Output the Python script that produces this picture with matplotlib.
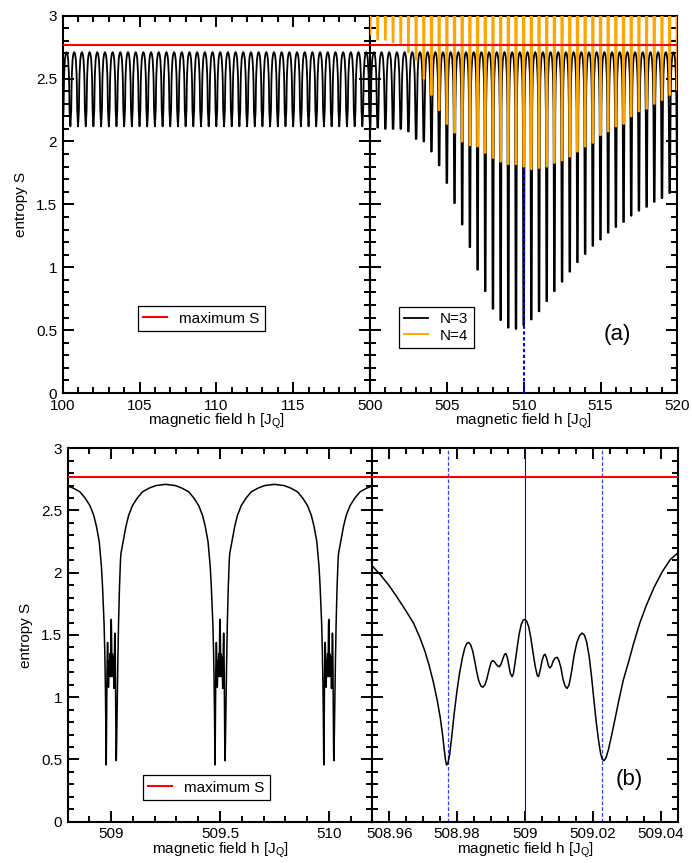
import numpy as np
import matplotlib.pyplot as plt
from matplotlib.ticker import MultipleLocator

plt.rcParams['font.family'] = ['Liberation Sans', 'DejaVu Sans']
plt.rcParams['mathtext.default'] = 'regular'

# maximum entropy (red line)
S_max = 2.77

# top left: N=3, dips every 0.5 J_Q, all equally deep
left_centres = np.arange(100.0, 120.01, 0.5)
left_min = 2.12

# top right: dip positions and dip minima for N=3 and N=4
right_centres = np.arange(500.0, 520.01, 0.5)
n3_min = [2.11, 2.11, 2.10, 2.10, 2.10, 2.08, 2.02, 2.00, 1.92, 1.81,
          1.67, 1.51, 1.34, 1.16, 0.98, 0.81, 0.67, 0.58, 0.52, 0.51,
          0.54, 0.585, 0.65, 0.73, 0.81, 0.885, 0.965, 1.04, 1.105, 1.17,
          1.22, 1.275, 1.32, 1.36, 1.41, 1.45, 1.48, 1.52, 1.55, 1.59, 1.62]
n4_min = [2.85, 2.81, 2.81, 2.79, 2.77, 2.71, 2.65, 2.50, 2.37, 2.25,
          2.14, 2.07, 2.00, 1.97, 1.96, 1.91, 1.87, 1.84, 1.82, 1.82,
          1.80, 1.78, 1.79, 1.80, 1.83, 1.85, 1.88, 1.92, 1.96, 1.99,
          2.05, 2.08, 2.12, 2.14, 2.20, 2.24, 2.26, 2.30, 2.33, 2.37, 2.41]
# N=4 stripe shape above the minimum (offset, entropy), goes off the top
n4_d = [0.25, 0.05]
n4_S = [3.6, 3.1]
mark_h = 510.0
mark_top = 1.80

# wing of an N=3 dip: offset from dip centre and entropy
wing_d = [0.055, 0.0675, 0.08, 0.098, 0.12, 0.144, 0.175, 0.205, 0.25]
wing_S = [2.25, 2.37, 2.46, 2.54, 2.60, 2.65, 2.68, 2.70, 2.71]
dip_half = 0.0228

# bottom right: the dip at h = 509 in detail
zoom_h = [508.9552, 508.9575, 508.9600, 508.9625, 508.9650, 508.9672, 508.9690,
          508.9705, 508.9718, 508.9730, 508.9741, 508.9750, 508.9757, 508.9762,
          508.9766, 508.9769, 508.9773, 508.9778, 508.9784, 508.9791, 508.9799,
          508.9807, 508.9815, 508.9822, 508.9828, 508.9834, 508.9840, 508.9846,
          508.9852, 508.9858, 508.9864, 508.9870, 508.9876, 508.9882, 508.9888,
          508.9894, 508.9900, 508.9905, 508.9910, 508.9915, 508.9920, 508.9925,
          508.9930, 508.9935, 508.9940, 508.9944, 508.9948, 508.9952, 508.9957,
          508.9962, 508.9966, 508.9971, 508.9977, 508.9983, 508.9989, 508.9995,
          509.0000, 509.0005, 509.0011, 509.0017, 509.0023, 509.0030, 509.0036,
          509.0040, 509.0045, 509.0050, 509.0055, 509.0059, 509.0064, 509.0069,
          509.0073, 509.0078, 509.0083, 509.0089, 509.0095, 509.0100, 509.0106,
          509.0112, 509.0118, 509.0124, 509.0130, 509.0137, 509.0145, 509.0153,
          509.0161, 509.0168, 509.0175, 509.0182, 509.0189, 509.0196, 509.0203,
          509.0210, 509.0217, 509.0223, 509.0228, 509.0233, 509.0239, 509.0246,
          509.0255, 509.0265, 509.0277, 509.0290, 509.0305, 509.0320, 509.0338,
          509.0358, 509.0380, 509.0405, 509.0428, 509.0449]
zoom_S = [2.048, 1.980, 1.895, 1.795, 1.690, 1.593, 1.480,
          1.370, 1.250, 1.120, 0.980, 0.840, 0.700, 0.580,
          0.490, 0.455, 0.470, 0.540, 0.680, 0.860, 1.040,
          1.190, 1.310, 1.390, 1.430, 1.440, 1.420, 1.370,
          1.290, 1.200, 1.130, 1.090, 1.080, 1.100, 1.150,
          1.220, 1.280, 1.295, 1.285, 1.265, 1.250, 1.245,
          1.270, 1.310, 1.345, 1.350, 1.320, 1.260, 1.190,
          1.165, 1.190, 1.280, 1.400, 1.510, 1.585, 1.620,
          1.625, 1.610, 1.565, 1.480, 1.370, 1.250, 1.175,
          1.165, 1.220, 1.290, 1.335, 1.345, 1.310, 1.255,
          1.235, 1.250, 1.290, 1.315, 1.320, 1.295, 1.235,
          1.145, 1.090, 1.070, 1.100, 1.200, 1.340, 1.440,
          1.495, 1.515, 1.500, 1.440, 1.330, 1.170, 0.980,
          0.800, 0.650, 0.545, 0.500, 0.490, 0.515, 0.580,
          0.690, 0.820, 0.980, 1.140, 1.280, 1.430, 1.593,
          1.740, 1.880, 2.010, 2.105, 2.155]
zoom_centre = 509.0
zoom_dashed = [508.9772, 509.0228]

# bottom left: three dips
bottom_centres = [509.0, 509.5, 510.0]

y_ticks = [0, 0.5, 1, 1.5, 2, 2.5, 3]
y_labels = ['0', '0.5', '1', '1.5', '2', '2.5', '3']
xlab = 'magnetic field h [J$_Q$]'


def dip(c, inner_d, inner_S):
    """one N=3 dip: left wing, inner part, right wing"""
    x = [c - d for d in wing_d[::-1]] + [c + d for d in inner_d] + [c + d for d in wing_d]
    y = wing_S[::-1] + list(inner_S) + wing_S
    return x, y


def style(ax, ylab=True):
    ax.set_ylim(0, 3)
    ax.set_yticks(y_ticks)
    ax.set_yticklabels(y_labels if ylab else [])
    ax.yaxis.set_minor_locator(MultipleLocator(0.1))
    ax.tick_params(which='both', direction='in', top=True, right=True,
                   width=1.4, labelsize=11)
    ax.tick_params(which='major', length=8.2, pad=4)
    ax.tick_params(which='minor', length=4.2)
    for s in ax.spines.values():
        s.set_linewidth(1.5)
    ax.set_xlabel(xlab, fontsize=11)
    ax.xaxis.set_label_coords(0.5, -0.05)
    if ylab:
        ax.set_ylabel('entropy S', fontsize=11)
        ax.yaxis.set_label_coords(-0.113, 0.5)


def legend(ax, x0, y0):
    leg = ax.legend(loc='lower left', bbox_to_anchor=(x0, y0), borderaxespad=0,
                    fontsize=11, fancybox=False, edgecolor='black', framealpha=1,
                    handlelength=1.55, handletextpad=0.8, borderpad=0.35,
                    labelspacing=0.15)
    leg.get_frame().set_linewidth(0.9)


fig = plt.figure(figsize=(6.92, 8.63), dpi=100)
ax_tl = fig.add_axes([0.0906, 0.5446, 0.4441, 0.4372])
ax_tr = fig.add_axes([0.5347, 0.5446, 0.4441, 0.4372])
ax_bl = fig.add_axes([0.0978, 0.0479, 0.4402, 0.4327])
ax_br = fig.add_axes([0.5380, 0.0479, 0.4413, 0.4327])

# ---- top left
xs, ys = [], []
for c in left_centres:
    x, y = dip(c, [0.0], [left_min])
    xs += x
    ys += y
ax_tl.plot(xs, ys, color='black', lw=1.3, zorder=2)
ax_tl.axhline(S_max, color='red', lw=1.5, zorder=4, label='maximum S')
ax_tl.set_xlim(100, 120)
ax_tl.set_xticks([100, 105, 110, 115, 120])
ax_tl.set_xticklabels(['100', '105', '110', '115', ''])
ax_tl.xaxis.set_minor_locator(MultipleLocator(1))
style(ax_tl)
legend(ax_tl, 0.245, 0.164)

# ---- top right
xs, ys = [], []
for c, m in zip(right_centres, n3_min):
    x, y = dip(c, [-dip_half, dip_half], [m, m])
    xs += x
    ys += y
ax_tr.plot(xs, ys, color='black', lw=1.3, zorder=2, label='N=3')
xs, ys = [], []
for c, m in zip(right_centres, n4_min):
    xs += [c - d for d in n4_d] + [c - dip_half, c + dip_half] + [c + d for d in n4_d[::-1]]
    ys += n4_S + [m, m] + n4_S[::-1]
ax_tr.plot(xs, ys, color='#ffa500', lw=1.4, zorder=3, label='N=4')
ax_tr.axhline(S_max, color='red', lw=1.5, zorder=4)
ax_tr.plot([mark_h, mark_h], [0, mark_top], color='blue', lw=1.5,
           ls=(0, (1.6, 1.2)), zorder=5)
ax_tr.set_xlim(500, 520)
ax_tr.set_xticks([500, 505, 510, 515, 520])
ax_tr.set_xticklabels(['500', '505', '510', '515', '520'])
ax_tr.xaxis.set_minor_locator(MultipleLocator(1))
style(ax_tr, ylab=False)
legend(ax_tr, 0.094, 0.119)
ax_tr.text(0.804, 0.154, '(a)', transform=ax_tr.transAxes, fontsize=16,
           ha='center', va='center')

# ---- bottom left
inner_d = [h - zoom_centre for h in zoom_h]
xs, ys = [], []
for c in bottom_centres:
    x, y = dip(c, inner_d, zoom_S)
    xs += x
    ys += y
ax_bl.plot(xs, ys, color='black', lw=1.1, zorder=2)
ax_bl.axhline(S_max, color='red', lw=1.5, zorder=4, label='maximum S')
ax_bl.set_xlim(508.8, 510.2)
ax_bl.set_xticks([509, 509.5, 510])
ax_bl.set_xticklabels(['509', '509.5', '510'])
ax_bl.xaxis.set_minor_locator(MultipleLocator(0.1))
style(ax_bl)
legend(ax_bl, 0.246, 0.058)

# ---- bottom right
ax_br.plot(zoom_h, zoom_S, color='black', lw=1.1, zorder=3)
ax_br.axhline(S_max, color='red', lw=1.5, zorder=4)
ax_br.axvline(zoom_centre, color='blue', lw=0.8, zorder=2)
for h in zoom_dashed:
    ax_br.axvline(h, color='#3040ff', lw=0.9, ls=(0, (3.0, 1.6)), zorder=2)
ax_br.set_xlim(508.955, 509.045)
ax_br.set_xticks([508.96, 508.98, 509.0, 509.02, 509.04])
ax_br.set_xticklabels(['508.96', '508.98', '509', '509.02', '509.04'])
ax_br.xaxis.set_minor_locator(MultipleLocator(0.005))
style(ax_br, ylab=False)
ax_br.text(0.84, 0.112, '(b)', transform=ax_br.transAxes, fontsize=16,
           ha='center', va='center')

fig.savefig('out.png', dpi=100)
